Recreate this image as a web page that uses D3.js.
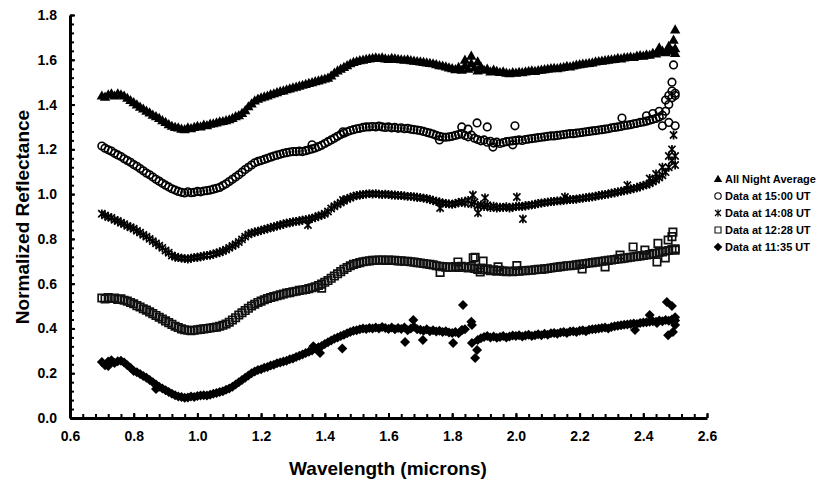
<!DOCTYPE html>
<html>
<head>
<meta charset="utf-8">
<script src="https://cdn.jsdelivr.net/npm/d3@7"></script>
<style>
  body { margin: 0; background: #fff; }
  text { font-family: "Liberation Sans", Arial, sans-serif; font-weight: bold; fill: #000; }
</style>
</head>
<body>
<svg id="chart" width="817" height="482"></svg>
<script>
// wavelength grid (microns)
var wavelength = [
  0.70, 0.71, 0.72, 0.73, 0.74, 0.75, 0.76, 0.77, 0.78, 0.79,
  0.80, 0.81, 0.82, 0.83, 0.84, 0.85, 0.86, 0.87, 0.88, 0.89,
  0.90, 0.91, 0.92, 0.93, 0.94, 0.95, 0.96, 0.97, 0.98, 0.99,
  1.00, 1.01, 1.02, 1.03, 1.04, 1.05, 1.06, 1.07, 1.08, 1.09,
  1.10, 1.11, 1.12, 1.13, 1.14, 1.15, 1.16, 1.17, 1.18, 1.19,
  1.20, 1.21, 1.22, 1.23, 1.24, 1.25, 1.26, 1.27, 1.28, 1.29,
  1.30, 1.31, 1.32, 1.33, 1.34, 1.35, 1.36, 1.37, 1.38, 1.39,
  1.40, 1.41, 1.42, 1.43, 1.44, 1.45, 1.46, 1.47, 1.48, 1.49,
  1.50, 1.51, 1.52, 1.53, 1.54, 1.55, 1.56, 1.57, 1.58, 1.59,
  1.60, 1.61, 1.62, 1.63, 1.64, 1.65, 1.66, 1.67, 1.68, 1.69,
  1.70, 1.71, 1.72, 1.73, 1.74, 1.75, 1.76, 1.77, 1.78, 1.79,
  1.80, 1.81, 1.82, 1.83, 1.84, 1.85, 1.86, 1.87, 1.88, 1.89,
  1.90, 1.91, 1.92, 1.93, 1.94, 1.95, 1.96, 1.97, 1.98, 1.99,
  2.00, 2.01, 2.02, 2.03, 2.04, 2.05, 2.06, 2.07, 2.08, 2.09,
  2.10, 2.11, 2.12, 2.13, 2.14, 2.15, 2.16, 2.17, 2.18, 2.19,
  2.20, 2.21, 2.22, 2.23, 2.24, 2.25, 2.26, 2.27, 2.28, 2.29,
  2.30, 2.31, 2.32, 2.33, 2.34, 2.35, 2.36, 2.37, 2.38, 2.39,
  2.40, 2.41, 2.42, 2.43, 2.44, 2.45, 2.46, 2.47, 2.48, 2.49,
  2.50
];

var allNight = [
  1.440, 1.435, 1.445, 1.450, 1.440, 1.450, 1.445, 1.440, 1.430, 1.420,
  1.410, 1.400, 1.390, 1.382, 1.372, 1.365, 1.355, 1.348, 1.340, 1.330,
  1.322, 1.312, 1.305, 1.300, 1.298, 1.292, 1.290, 1.298, 1.294, 1.300,
  1.305, 1.302, 1.310, 1.308, 1.314, 1.316, 1.320, 1.324, 1.326, 1.330,
  1.334, 1.340, 1.348, 1.352, 1.362, 1.375, 1.392, 1.405, 1.418, 1.426,
  1.432, 1.436, 1.440, 1.446, 1.450, 1.455, 1.460, 1.463, 1.468, 1.472,
  1.476, 1.480, 1.484, 1.488, 1.492, 1.496, 1.500, 1.504, 1.508, 1.512,
  1.516, 1.520, 1.530, 1.542, 1.552, 1.560, 1.568, 1.576, 1.584, 1.590,
  1.594, 1.598, 1.600, 1.604, 1.606, 1.608, 1.610, 1.608, 1.610, 1.606,
  1.604, 1.608, 1.606, 1.604, 1.602, 1.600, 1.602, 1.598, 1.596, 1.594,
  1.592, 1.590, 1.588, 1.586, 1.584, 1.580, 1.576, 1.574, 1.570, 1.566,
  1.562, 1.558, 1.568, 1.555, 1.575, 1.560, 1.585, 1.565, 1.552, 1.570,
  1.555, 1.560, 1.548, 1.556, 1.550, 1.545, 1.548, 1.542, 1.540, 1.544,
  1.542, 1.546, 1.544, 1.548, 1.550, 1.552, 1.550, 1.554, 1.556, 1.558,
  1.560, 1.562, 1.564, 1.562, 1.566, 1.568, 1.572, 1.570, 1.574, 1.578,
  1.580, 1.582, 1.584, 1.586, 1.588, 1.592, 1.594, 1.596, 1.598, 1.600,
  1.602, 1.604, 1.608, 1.606, 1.610, 1.612, 1.614, 1.612, 1.618, 1.620,
  1.618, 1.624, 1.622, 1.630, 1.628, 1.636, 1.640, 1.634, 1.648, 1.640,
  1.652
];
var allNightExtra = [[1.84, 1.600], [1.86, 1.618], [1.88, 1.592], [2.45, 1.655], [2.48, 1.662],
  [2.495, 1.690], [2.50, 1.735], [2.50, 1.630]];

var ut1500 = [
  1.215, 1.205, 1.198, 1.192, 1.182, 1.175, 1.168, 1.158, 1.150, 1.142,
  1.132, 1.124, 1.114, 1.104, 1.094, 1.086, 1.076, 1.066, 1.058, 1.048,
  1.040, 1.032, 1.024, 1.018, 1.012, 1.008, 1.005, 1.010, 1.006, 1.008,
  1.012, 1.010, 1.014, 1.016, 1.018, 1.022, 1.026, 1.030, 1.038, 1.046,
  1.056, 1.066, 1.076, 1.086, 1.098, 1.110, 1.120, 1.130, 1.140, 1.146,
  1.150, 1.155, 1.160, 1.165, 1.170, 1.174, 1.178, 1.182, 1.185, 1.188,
  1.190, 1.190, 1.192, 1.190, 1.194, 1.198, 1.202, 1.206, 1.212, 1.218,
  1.226, 1.234, 1.242, 1.250, 1.258, 1.266, 1.272, 1.278, 1.284, 1.288,
  1.292, 1.294, 1.298, 1.300, 1.300, 1.302, 1.300, 1.304, 1.300, 1.298,
  1.300, 1.296, 1.298, 1.294, 1.296, 1.292, 1.294, 1.290, 1.288, 1.286,
  1.284, 1.280, 1.276, 1.272, 1.268, 1.262, 1.258, 1.255, 1.254, 1.256,
  1.258, 1.262, 1.266, 1.270, 1.262, 1.256, 1.264, 1.250, 1.244, 1.238,
  1.242, 1.232, 1.236, 1.228, 1.232, 1.226, 1.230, 1.234, 1.236, 1.238,
  1.240, 1.242, 1.240, 1.244, 1.246, 1.248, 1.250, 1.252, 1.254, 1.256,
  1.258, 1.260, 1.260, 1.262, 1.264, 1.266, 1.268, 1.270, 1.270, 1.272,
  1.274, 1.276, 1.278, 1.280, 1.282, 1.284, 1.286, 1.288, 1.290, 1.292,
  1.296, 1.298, 1.300, 1.302, 1.306, 1.308, 1.310, 1.314, 1.316, 1.320,
  1.322, 1.326, 1.330, 1.334, 1.338, 1.344, 1.352, 1.370, 1.400, 1.430,
  1.440
];
var ut1500Extra = [[1.36, 1.220], [1.457, 1.278], [1.76, 1.242], [1.83, 1.300], [1.85, 1.290],
  [1.878, 1.318], [1.91, 1.300], [1.928, 1.210], [1.99, 1.220], [1.997, 1.305],
  [2.333, 1.340], [2.41, 1.350], [2.43, 1.360], [2.45, 1.370], [2.46, 1.305], [2.47, 1.420],
  [2.48, 1.440], [2.48, 1.320], [2.49, 1.460], [2.49, 1.500], [2.495, 1.577], [2.50, 1.450],
  [2.50, 1.305]];

var ut1408 = [
  0.912, 0.905, 0.898, 0.894, 0.885, 0.880, 0.872, 0.866, 0.858, 0.852,
  0.845, 0.836, 0.828, 0.818, 0.810, 0.800, 0.790, 0.780, 0.770, 0.760,
  0.748, 0.738, 0.726, 0.720, 0.716, 0.714, 0.712, 0.710, 0.714, 0.716,
  0.718, 0.720, 0.724, 0.726, 0.728, 0.732, 0.736, 0.740, 0.746, 0.752,
  0.760, 0.768, 0.776, 0.786, 0.798, 0.810, 0.820, 0.826, 0.830, 0.834,
  0.838, 0.842, 0.846, 0.850, 0.854, 0.858, 0.862, 0.866, 0.870, 0.872,
  0.876, 0.878, 0.880, 0.884, 0.886, 0.888, 0.892, 0.896, 0.902, 0.906,
  0.912, 0.922, 0.936, 0.946, 0.954, 0.962, 0.970, 0.978, 0.984, 0.990,
  0.994, 0.996, 0.998, 1.000, 1.002, 1.000, 1.002, 1.000, 0.998, 1.000,
  0.998, 0.996, 0.996, 0.994, 0.994, 0.992, 0.990, 0.990, 0.988, 0.986,
  0.984, 0.982, 0.980, 0.976, 0.972, 0.968, 0.964, 0.960, 0.958, 0.956,
  0.954, 0.958, 0.962, 0.966, 0.960, 0.972, 0.956, 0.964, 0.948, 0.952,
  0.944, 0.950, 0.940, 0.946, 0.938, 0.942, 0.940, 0.944, 0.938, 0.942,
  0.944, 0.946, 0.944, 0.948, 0.950, 0.952, 0.954, 0.958, 0.960, 0.962,
  0.964, 0.966, 0.968, 0.970, 0.970, 0.972, 0.974, 0.976, 0.976, 0.978,
  0.980, 0.982, 0.984, 0.986, 0.988, 0.990, 0.994, 0.996, 0.998, 1.000,
  1.004, 1.006, 1.010, 1.012, 1.016, 1.018, 1.022, 1.026, 1.028, 1.034,
  1.038, 1.042, 1.048, 1.056, 1.064, 1.074, 1.084, 1.098, 1.120, 1.150,
  1.170
];
var ut1408Extra = [[1.347, 0.862], [1.457, 0.974], [1.762, 0.938], [1.865, 0.996], [1.881, 0.916],
  [1.903, 0.983], [2.003, 0.987], [2.022, 0.889], [2.154, 0.987], [2.35, 1.040], [2.42, 1.070],
  [2.44, 1.090], [2.46, 1.120], [2.48, 1.170], [2.49, 1.200], [2.495, 1.264], [2.50, 1.130]];

var ut1228 = [
  0.536, 0.532, 0.538, 0.534, 0.536, 0.530, 0.532, 0.526, 0.522, 0.516,
  0.510, 0.502, 0.496, 0.488, 0.482, 0.474, 0.466, 0.458, 0.450, 0.442,
  0.434, 0.426, 0.418, 0.410, 0.404, 0.398, 0.394, 0.392, 0.390, 0.392,
  0.394, 0.396, 0.398, 0.400, 0.402, 0.404, 0.406, 0.410, 0.414, 0.420,
  0.428, 0.438, 0.448, 0.460, 0.470, 0.480, 0.490, 0.500, 0.508, 0.516,
  0.522, 0.528, 0.534, 0.538, 0.542, 0.546, 0.550, 0.554, 0.558, 0.560,
  0.564, 0.566, 0.570, 0.572, 0.574, 0.578, 0.582, 0.586, 0.592, 0.598,
  0.606, 0.614, 0.624, 0.634, 0.644, 0.654, 0.664, 0.672, 0.680, 0.686,
  0.690, 0.694, 0.698, 0.700, 0.702, 0.704, 0.704, 0.706, 0.706, 0.704,
  0.706, 0.704, 0.704, 0.702, 0.702, 0.700, 0.700, 0.698, 0.696, 0.694,
  0.692, 0.690, 0.688, 0.686, 0.684, 0.680, 0.678, 0.676, 0.674, 0.674,
  0.674, 0.676, 0.672, 0.678, 0.674, 0.670, 0.676, 0.668, 0.664, 0.670,
  0.662, 0.666, 0.658, 0.662, 0.656, 0.660, 0.656, 0.654, 0.656, 0.654,
  0.656, 0.656, 0.658, 0.658, 0.660, 0.660, 0.662, 0.664, 0.664, 0.666,
  0.668, 0.670, 0.672, 0.674, 0.676, 0.678, 0.680, 0.680, 0.682, 0.684,
  0.686, 0.688, 0.690, 0.692, 0.694, 0.696, 0.698, 0.700, 0.702, 0.704,
  0.706, 0.708, 0.710, 0.712, 0.714, 0.716, 0.718, 0.720, 0.722, 0.724,
  0.726, 0.728, 0.730, 0.734, 0.736, 0.740, 0.742, 0.746, 0.748, 0.752,
  0.756
];
var ut1228Extra = [[1.39, 0.580], [1.762, 0.650], [1.818, 0.697], [1.866, 0.715], [1.872, 0.718],
  [1.888, 0.652], [1.897, 0.701], [1.944, 0.675], [2.003, 0.681], [2.208, 0.666], [2.28, 0.675],
  [2.327, 0.728], [2.368, 0.764], [2.405, 0.750], [2.443, 0.697], [2.446, 0.780], [2.469, 0.715],
  [2.478, 0.795], [2.49, 0.810], [2.493, 0.830], [2.50, 0.750]];

var ut1135 = [
  0.250, 0.236, 0.252, 0.258, 0.246, 0.254, 0.256, 0.248, 0.236, 0.224,
  0.210, 0.204, 0.196, 0.188, 0.180, 0.170, 0.160, 0.150, 0.140, 0.132,
  0.124, 0.116, 0.108, 0.102, 0.096, 0.094, 0.090, 0.092, 0.096, 0.094,
  0.098, 0.100, 0.102, 0.100, 0.104, 0.108, 0.112, 0.116, 0.120, 0.126,
  0.132, 0.140, 0.150, 0.160, 0.170, 0.180, 0.190, 0.200, 0.208, 0.214,
  0.218, 0.224, 0.228, 0.234, 0.238, 0.244, 0.248, 0.252, 0.256, 0.262,
  0.266, 0.272, 0.278, 0.284, 0.290, 0.296, 0.302, 0.310, 0.316, 0.322,
  0.330, 0.338, 0.346, 0.354, 0.360, 0.366, 0.372, 0.378, 0.384, 0.390,
  0.392, 0.396, 0.400, 0.398, 0.402, 0.400, 0.404, 0.400, 0.406, 0.402,
  0.398, 0.404, 0.396, 0.402, 0.398, 0.404, 0.392, 0.400, 0.408, 0.396,
  0.394, 0.390, 0.396, 0.388, 0.392, 0.386, 0.390, 0.384, 0.388, 0.382,
  0.380, 0.384, 0.378, 0.392, 0.396, null, null, null, 0.348, 0.356,
  0.362, 0.366, 0.360, 0.364, 0.358, 0.362, 0.366, 0.360, 0.364, 0.368,
  0.366, 0.370, 0.364, 0.368, 0.372, 0.366, 0.370, 0.374, 0.370, 0.376,
  0.372, 0.378, 0.380, 0.376, 0.382, 0.384, 0.380, 0.386, 0.388, 0.384,
  0.390, 0.392, 0.388, 0.394, 0.396, 0.398, 0.400, 0.402, 0.404, 0.400,
  0.406, 0.410, 0.412, 0.414, 0.416, 0.418, 0.420, 0.422, 0.420, 0.424,
  0.426, 0.428, 0.430, 0.432, 0.430, 0.436, 0.432, 0.438, 0.434, 0.440,
  0.436
];
var ut1135Extra = [[0.72, 0.232], [0.87, 0.130], [1.364, 0.320], [1.385, 0.290], [1.455, 0.310],
  [1.652, 0.340], [1.678, 0.438], [1.708, 0.348], [1.803, 0.335], [1.831, 0.393], [1.834, 0.505],
  [1.860, 0.430], [1.862, 0.415], [1.862, 0.335], [1.872, 0.268], [1.878, 0.304],
  [2.374, 0.393], [2.42, 0.460], [2.443, 0.424], [2.474, 0.518], [2.478, 0.370], [2.49, 0.500],
  [2.493, 0.384], [2.50, 0.450], [2.50, 0.415]];

var seriesNames = ["All Night Average", "Data at 15:00 UT", "Data at 14:08 UT", "Data at 12:28 UT", "Data at 11:35 UT"];
var xTicks = [0.6, 0.8, 1.0, 1.2, 1.4, 1.6, 1.8, 2.0, 2.2, 2.4, 2.6];
var yTicks = [0.0, 0.2, 0.4, 0.6, 0.8, 1.0, 1.2, 1.4, 1.6, 1.8];

// marker shapes (plot size / legend size)
var markers = {
  triangle: { d: "M0,-5.2L5.2,4L-5.2,4Z", leg: "M0,-4.2L4.2,3L-4.2,3Z", fill: "#000", stroke: "none", sw: 0 },
  circle: { d: d3.symbol().type(d3.symbolCircle).size(Math.PI * 3.8 * 3.8)(),
            leg: d3.symbol().type(d3.symbolCircle).size(Math.PI * 3.2 * 3.2)(), fill: "none", stroke: "#000", sw: 1.6 },
  asterisk: { d: "M-3.6,-3.6L3.6,3.6M-3.6,3.6L3.6,-3.6M0,-4.4V4.4", leg: "M-3,-3L3,3M-3,3L3,-3M0,-3.8V3.8",
              fill: "none", stroke: "#000", sw: 1.7 },
  square: { d: "M-3.7,-3.7H3.7V3.7H-3.7Z", leg: "M-3,-3H3V3H-3Z", fill: "none", stroke: "#111", sw: 1.7 },
  diamond: { d: "M0,-5L5,0L0,5L-5,0Z", leg: "M0,-4.3L4.3,0L0,4.3L-4.3,0Z", fill: "#000", stroke: "none", sw: 0 }
};

var series = [
  { name: seriesNames[0], values: allNight, extra: allNightExtra, marker: markers.triangle },
  { name: seriesNames[1], values: ut1500, extra: ut1500Extra, marker: markers.circle },
  { name: seriesNames[2], values: ut1408, extra: ut1408Extra, marker: markers.asterisk },
  { name: seriesNames[3], values: ut1228, extra: ut1228Extra, marker: markers.square },
  { name: seriesNames[4], values: ut1135, extra: ut1135Extra, marker: markers.diamond }
];

var svg = d3.select("#chart");

var x = d3.scaleLinear().domain([0.6, 2.6]).range([70, 707]);
var y = d3.scaleLinear().domain([0, 1.8]).range([418, 15]);

// points
series.forEach(function(s) {
  var pts = wavelength
    .map(function(w, i) { return [w, s.values[i]]; })
    .filter(function(p) { return p[1] != null; })
    .concat(s.extra);

  svg.append("g")
    .selectAll("path")
    .data(pts)
    .enter()
    .append("path")
    .attr("d", s.marker.d)
    .attr("transform", function(p) { return "translate(" + x(p[0]) + "," + y(p[1]) + ")"; })
    .attr("fill", s.marker.fill)
    .attr("stroke", s.marker.stroke)
    .attr("stroke-width", s.marker.sw);
});

// minor ticks
var minorX = d3.range(0.6, 2.601, 0.04);
var minorY = d3.range(0, 1.801, 0.04);

svg.append("g")
  .attr("transform", "translate(0,418)")
  .call(d3.axisBottom(x).tickValues(minorX).tickFormat("").tickSizeInner(-4).tickSizeOuter(0))
  .call(function(g) { g.select(".domain").remove(); g.selectAll("line").attr("stroke-width", 2); });

svg.append("g")
  .attr("transform", "translate(70,0)")
  .call(d3.axisLeft(y).tickValues(minorY).tickFormat("").tickSizeInner(-4).tickSizeOuter(0))
  .call(function(g) { g.select(".domain").remove(); g.selectAll("line").attr("stroke-width", 2); });

// main axes
var xAxis = svg.append("g")
  .attr("transform", "translate(0,418)")
  .call(d3.axisBottom(x).tickValues(xTicks).tickFormat(d3.format(".1f")).tickSizeInner(-5).tickSizeOuter(0).tickPadding(13));

var yAxis = svg.append("g")
  .attr("transform", "translate(70,0)")
  .call(d3.axisLeft(y).tickValues(yTicks).tickFormat(d3.format(".1f")).tickSizeInner(-5).tickSizeOuter(0).tickPadding(13));

[xAxis, yAxis].forEach(function(g) {
  g.select(".domain").attr("stroke-width", 3);
  g.selectAll("line").attr("stroke-width", 2);
  g.selectAll("text")
    .attr("font-size", 14)
    .style("font-family", "'Liberation Sans', Arial, sans-serif")
    .style("font-weight", "bold");
});

// axis titles
svg.append("text")
  .attr("x", 388)
  .attr("y", 475)
  .attr("text-anchor", "middle")
  .attr("font-size", 19)
  .text("Wavelength (microns)");

svg.append("text")
  .attr("transform", "translate(29,217) rotate(-90)")
  .attr("text-anchor", "middle")
  .attr("font-size", 19)
  .text("Normalized Reflectance");

// legend
var legend = svg.append("g")
  .selectAll("g")
  .data(series)
  .enter()
  .append("g")
  .attr("transform", function(s, i) { return "translate(718," + (179 + i * 17) + ")"; });

legend.append("path")
  .attr("d", function(s) { return s.marker.leg; })
  .attr("fill", function(s) { return s.marker.fill; })
  .attr("stroke", function(s) { return s.marker.stroke; })
  .attr("stroke-width", function(s) { return Math.min(s.marker.sw, 1.1); });

legend.append("text")
  .attr("x", 7)
  .attr("dy", "0.36em")
  .attr("font-size", 11)
  .text(function(s) { return s.name; });
</script>
</body>
</html>
